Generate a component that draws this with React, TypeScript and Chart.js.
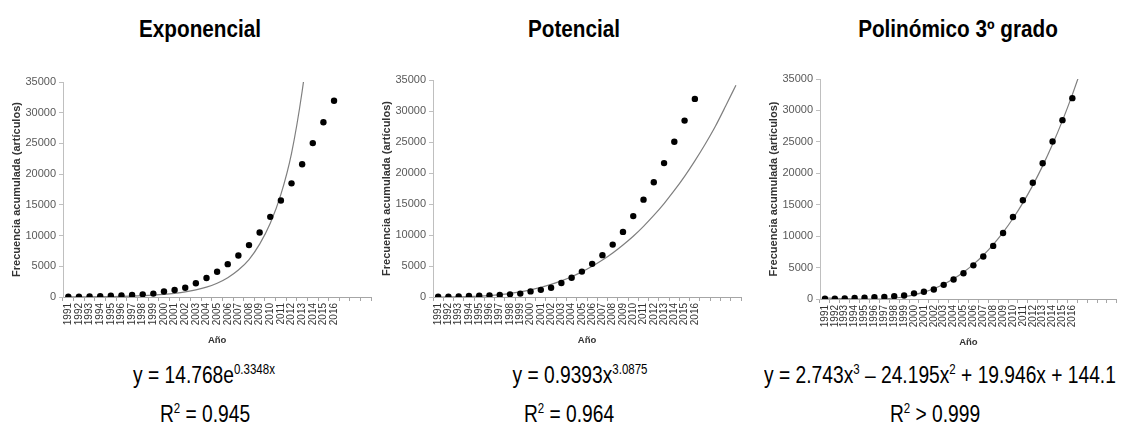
import React, { useEffect, useRef } from 'react';
import { Chart, registerables } from 'chart.js';

Chart.register(...registerables);

// ---- Data ----
const yearLabels = ['1991','1992','1993','1994','1995','1996','1997','1998','1999','2000','2001','2002','2003','2004','2005','2006','2007','2008','2009','2010','2011','2012','2013','2014','2015','2016'];
const extraCategoriesExp = ['', '', ''];
const extraCategoriesPot = ['', '', '', ''];
const extraCategoriesPoly = ['', '', '', ''];

// cumulative articles per year (points)
const cumulativeArticles = [40, 60, 90, 150, 200, 270, 330, 430, 550, 900, 1150, 1500, 2250, 3100, 4100, 5350, 6750, 8450, 10500, 13050, 15700, 18500, 21600, 25050, 28450, 31950];

// trend lines (per category)
const expTrend = [20, 30, 40, 55, 80, 110, 155, 215, 300, 420, 590, 820, 1150, 1600, 2250, 3150, 4400, 6100, 8600, 12000, 16700, 23400, 33500, 47000];
const potTrend = [1, 8, 28, 67, 135, 236, 383, 580, 835, 1150, 1550, 2030, 2600, 3270, 4050, 4950, 5960, 7100, 8390, 9800, 11400, 13150, 15070, 17180, 19460, 21960, 24640, 27540, 30800, 34170];
const polyTrend = [143, 109, 60, 12, -18, -15, 39, 160, 363, 667, 1087, 1639, 2341, 3208, 4257, 5505, 6967, 8661, 10603, 12809, 15296, 18080, 21178, 24605, 28380, 32519, 37034];

const yMax = 35000;
const yStep = 5000;

const titles = ['Exponencial', 'Potencial', 'Polinómico 3º grado'];
const yTitle = 'Frecuencia acumulada (artículos)';
const xTitle = 'Año';

type PanelCfg = {
  labels: string[];
  trend: number[];
  left: number; top: number; width: number; height: number;
  padTop: number; padRight: number;
};

const panels: PanelCfg[] = [
  { labels: [...yearLabels, ...extraCategoriesExp], trend: expTrend, left: 0, top: 72, width: 380, height: 275, padTop: 10, padRight: 3 },
  { labels: [...yearLabels, ...extraCategoriesPot], trend: potTrend, left: 370, top: 70, width: 380, height: 277, padTop: 10, padRight: 1 },
  { labels: [...yearLabels, ...extraCategoriesPoly], trend: polyTrend, left: 757, top: 69, width: 369, height: 280, padTop: 10, padRight: 0 },
];

const FONT = "'Liberation Sans', Arial, sans-serif";

function Panel({ cfg }: { cfg: PanelCfg }) {
  const ref = useRef<HTMLCanvasElement | null>(null);
  useEffect(() => {
    if (!ref.current) return;
    const chart = new Chart(ref.current, {
      type: 'line',
      data: {
        labels: cfg.labels,
        datasets: [
          {
            data: cumulativeArticles,
            showLine: false,
            pointRadius: 3.2,
            pointBackgroundColor: '#000',
            pointBorderColor: '#000',
            pointBorderWidth: 0,
            order: 0,
          },
          {
            data: cfg.trend,
            borderColor: '#7f7f7f',
            borderWidth: 1.2,
            pointRadius: 0,
            cubicInterpolationMode: 'monotone',
            fill: false,
            order: 1,
          },
        ],
      },
      options: {
        animation: false,
        responsive: false,
        maintainAspectRatio: false,
        layout: { padding: { top: cfg.padTop, right: cfg.padRight, left: 0, bottom: 0 } },
        plugins: { legend: { display: false }, tooltip: { enabled: false }, title: { display: false } },
        scales: {
          x: {
            type: 'category',
            offset: true,
            grid: { display: true, drawOnChartArea: false, drawTicks: true, tickLength: 4, offset: true, color: '#a6a6a6' },
            border: { display: true, color: '#a6a6a6' },
            ticks: {
              autoSkip: false, minRotation: 90, maxRotation: 90,
              font: { family: FONT, size: 10 }, color: '#333333', padding: 2,
            },
            title: { display: true, text: xTitle, font: { family: FONT, size: 9.5, weight: 'bold' }, color: '#333333', padding: { top: 4, bottom: 1 } },
            afterFit: (s: any) => { s.height = 50; },
          },
          y: {
            min: 0, max: yMax,
            grid: { display: true, drawOnChartArea: false, drawTicks: true, tickLength: 4, color: '#bfbfbf' },
            border: { display: true, color: '#bfbfbf' },
            ticks: {
              stepSize: yStep,
              font: { family: FONT, size: 11 }, color: '#595959', padding: 3,
              callback: (v: any) => String(v),
            },
            title: { display: true, text: yTitle, font: { family: FONT, size: 11, weight: 'bold' }, color: '#333333', padding: { top: 10, bottom: 0 } },
            afterFit: (s: any) => { s.width = 63; },
          },
        },
      } as any,
    });
    return () => chart.destroy();
  }, [cfg]);
  return (
    <canvas
      ref={ref}
      width={cfg.width}
      height={cfg.height}
      style={{ position: 'absolute', left: cfg.left, top: cfg.top, width: cfg.width, height: cfg.height }}
    />
  );
}

const supStyle: React.CSSProperties = { fontSize: '0.6em', position: 'relative', top: '-0.65em' };

function Label({ cx, top, size, bold, sx, children }: { cx: number; top: number; size: number; bold?: boolean; sx: number; children: React.ReactNode }) {
  return (
    <div
      style={{
        position: 'absolute', left: cx - 250, top, width: 500, textAlign: 'center',
        fontFamily: FONT, fontSize: size, lineHeight: `${size}px`, fontWeight: bold ? 'bold' : 'normal',
        color: '#000', whiteSpace: 'nowrap', transform: `scaleX(${sx})`, transformOrigin: 'center',
      }}
    >
      {children}
    </div>
  );
}

export default function App() {
  return (
    <div style={{ position: 'absolute', left: 0, top: 0, width: 1126, height: 429, background: '#fff', overflow: 'hidden' }}>
      <Label cx={200} top={18} size={23} sx={0.9} bold>{titles[0]}</Label>
      <Label cx={574} top={18} size={23} sx={0.9} bold>{titles[1]}</Label>
      <Label cx={958} top={18} size={23} sx={0.9} bold>{titles[2]}</Label>
      {panels.map((p, i) => <Panel key={i} cfg={p} />)}
      <Label cx={204} top={363} size={24} sx={0.8}>y = 14.768e<span style={supStyle}>0.3348x</span></Label>
      <Label cx={205} top={402} size={24} sx={0.8}>R<span style={supStyle}>2</span> = 0.945</Label>
      <Label cx={580} top={363} size={24} sx={0.8}>y = 0.9393x<span style={supStyle}>3.0875</span></Label>
      <Label cx={569} top={402} size={24} sx={0.8}>R<span style={supStyle}>2</span> = 0.964</Label>
      <Label cx={940} top={363} size={24} sx={0.8}>y = 2.743x<span style={supStyle}>3</span> – 24.195x<span style={supStyle}>2</span> + 19.946x + 144.1</Label>
      <Label cx={935} top={402} size={24} sx={0.8}>R<span style={supStyle}>2</span> &gt; 0.999</Label>
    </div>
  );
}
